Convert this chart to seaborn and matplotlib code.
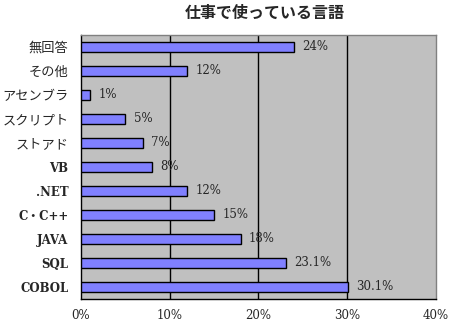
import matplotlib
matplotlib.use("Agg")
import matplotlib.pyplot as plt
import seaborn as sns
import pandas as pd
import numpy as np

# Languages used at work (share of respondents, %)
languages = ["無回答", "その他", "アセンブラ", "スクリプト", "ストアド", "VB", ".NET",
             "C・C++", "JAVA", "SQL", "COBOL"]
shares = [24, 12, 1, 5, 7, 8, 12, 15, 18, 23.1, 30.1]
share_labels = ["24%", "12%", "1%", "5%", "7%", "8%", "12%", "15%", "18%", "23.1%", "30.1%"]
xticks = [0, 10, 20, 30, 40]
xtick_labels = ["0%", "10%", "20%", "30%", "40%"]

df = pd.DataFrame({"language": languages, "share": shares})

sns.set_style("white")
plt.rcParams["font.family"] = ["DejaVu Serif", "Noto Sans CJK JP"]

fig = plt.figure(figsize=(4.52, 3.24), dpi=100)
ax = fig.add_axes([81 / 452, 1 - 299 / 324, 355 / 452, 264 / 324])
ax.set_facecolor("#C0C0C0")

sns.barplot(data=df, x="share", y="language", orient="h", order=languages,
            color="#8080FF", saturation=1, width=0.42, edgecolor="black",
            linewidth=1.0, ax=ax, zorder=3)

ax.set_xlim(0, 40)
ax.set_ylim(len(languages) - 0.5, -0.5)
ax.set_xticks(xticks)
ax.set_xticklabels(xtick_labels, fontsize=8.5)
ax.tick_params(axis="x", length=0, pad=7.5)

# Vertical gridlines
for v in xticks[1:-1]:
    ax.axvline(v, color="black", linewidth=1.0, zorder=1)

# Category labels, with short inward ticks between categories
ax.set_yticks(range(len(languages)))
ax.set_yticklabels(languages, fontsize=8.5, fontweight="bold")
for lbl, name in zip(ax.get_yticklabels(), languages):
    if any(ord(c) > 0x2000 and c != "・" for c in name):
        lbl.set_family(["Noto Sans CJK JP"])
        lbl.set_fontweight("normal")
        lbl.set_fontsize(9.5)
ax.tick_params(axis="y", length=0, pad=9)
ax.set_yticks(np.arange(-0.5, len(languages), 1.0), minor=True)
ax.tick_params(axis="y", which="minor", direction="in", length=4, width=1, color="black")

ax.set_xlabel("")
ax.set_ylabel("")

for s in ["left", "bottom"]:
    ax.spines[s].set_color("black")
    ax.spines[s].set_linewidth(1.0)
for s in ["top", "right"]:
    ax.spines[s].set_color("#808080")
    ax.spines[s].set_linewidth(1.0)

# Value labels next to each bar
for i, (v, t) in enumerate(zip(shares, share_labels)):
    ax.annotate(t, xy=(v, i), xytext=(6, 0), textcoords="offset points",
                va="center", ha="left", fontsize=8.5, zorder=4)

fig.text(265 / 452, 1 - 13 / 324, "仕事で使っている言語", ha="center", va="center",
         fontsize=11.5, fontweight="bold", family=["Noto Sans CJK JP"])

fig.savefig("out.png", dpi=100)
